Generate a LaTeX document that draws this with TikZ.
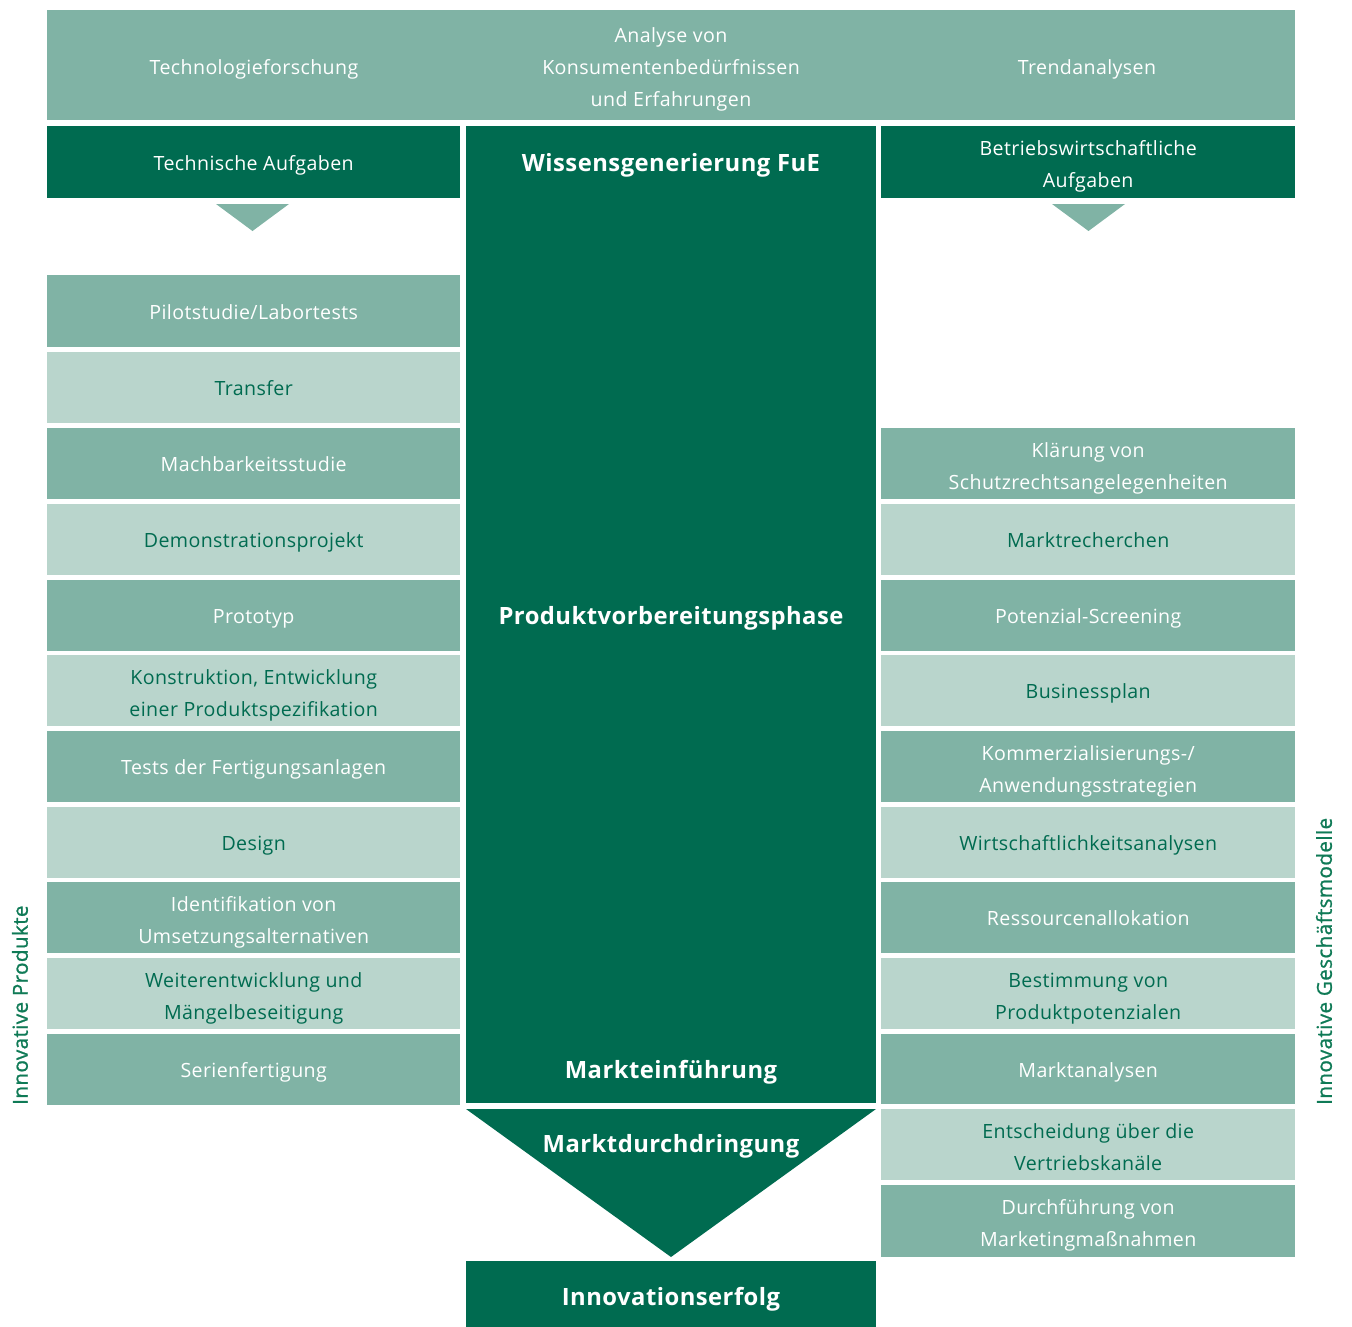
\documentclass[tikz,border=0pt]{standalone}
\usepackage{fontspec}
\setmainfont{Open Sans}[LetterSpace=2]
\newfontfamily\sidefont{Open Sans}[LetterSpace=2,FakeBold=1]
\newcommand\ztop{\rule{0pt}{25pt}}
\newcommand\zbot{\rule[-6pt]{0pt}{6pt}}
\definecolor{dkg}{HTML}{006B50}
\definecolor{mdg}{HTML}{80B3A5}
\definecolor{ltg}{HTML}{B9D5CC}
\definecolor{vtg}{HTML}{0F7A56}
\tikzset{
  plain/.style={rectangle, inner sep=0pt, anchor=north west},
  box/.style={plain, align=center,
    font=\fontsize{19.6}{32}\selectfont,
    execute at begin node={\rule{0pt}{22pt}},
    execute at end node={\rule[-6pt]{0pt}{6pt}}},
  lcol/.style={box, minimum width=413pt},
  rcol/.style={box, minimum width=414pt},
  mbox/.style={fill=mdg, text=white},
  lbox/.style={fill=ltg, text=dkg},
  dbox/.style={fill=dkg, text=white},
  ttl/.style={inner sep=0pt, text=white, text height=23pt, text depth=6pt,
    font=\fontsize{23.8}{30}\selectfont\bfseries},
  txt/.style={inner sep=0pt, align=center, text=white, font=\fontsize{19.6}{32}\selectfont,
    execute at begin node={\rule{0pt}{22pt}},
    execute at end node={\rule[-6pt]{0pt}{6pt}}},
  side/.style={inner sep=0pt, rotate=90, anchor=west, text=vtg,
    font=\fontsize{20.6}{24}\sidefont},
  arrowtri/.style={fill=mdg}
}
\begin{document}
\begin{tikzpicture}[x=1pt,y=-1pt]
\useasboundingbox (0,0) rectangle (1352,1326);
% top band
\node[plain, mbox, minimum width=1248pt, minimum height=110pt] (top) at (47,10) {};
\node[txt] (t1) at (254,66.5) {Technologieforschung};
\node[txt] (t2) at (671,65) {\ztop Analyse von\\Konsumentenbedürfnissen\\und Erfahrungen\zbot};
\node[txt] (t3) at (1087,66.5) {Trendanalysen};
% second row
\node[lcol, dbox, minimum height=72pt] (ta) at (47,126) {Technische Aufgaben};
\node[rcol, dbox, minimum height=72pt] (ba) at (881,126) {\ztop Betriebswirtschaftliche\\Aufgaben\zbot};
\fill[arrowtri] (216,204) -- (289,204) -- (252.5,231) -- cycle;
\fill[arrowtri] (1052,204) -- (1125,204) -- (1088.5,231) -- cycle;
% center column
\node[plain, dbox, minimum width=410pt, minimum height=977pt] (cc) at (466,126) {};
\node[ttl] (wg) at (671,163) {Wissensgenerierung FuE};
\node[ttl] (pv) at (671,616) {Produktvorbereitungsphase};
\node[ttl] (me) at (671,1070) {Markteinführung};
\fill[dkg] (466,1109) -- (876,1109) -- (671,1257) -- cycle;
\node[ttl] (md) at (671,1144) {Marktdurchdringung};
\node[plain, dbox, minimum width=410pt, minimum height=66pt] (ie) at (466,1261) {};
\node[ttl] (ieT) at (671,1297) {Innovationserfolg};
% left column
\node[lcol, mbox, minimum height=72pt] (l1) at (47,275) {Pilotstudie/Labortests};
\node[lcol, lbox, minimum height=71pt] (l2) at (47,352) {Transfer};
\node[lcol, mbox, minimum height=71pt] (l3) at (47,428) {Machbarkeitsstudie};
\node[lcol, lbox, minimum height=71pt] (l4) at (47,504) {Demonstrationsprojekt};
\node[lcol, mbox, minimum height=71pt] (l5) at (47,580) {Prototyp};
\node[lcol, lbox, minimum height=71pt] (l6) at (47,655) {\ztop Konstruktion, Entwicklung\\einer Produktspezifikation\zbot};
\node[lcol, mbox, minimum height=71pt] (l7) at (47,731) {Tests der Fertigungsanlagen};
\node[lcol, lbox, minimum height=71pt] (l8) at (47,807) {Design};
\node[lcol, mbox, minimum height=71pt] (l9) at (47,882) {\ztop Identifikation von\\Umsetzungsalternativen\zbot};
\node[lcol, lbox, minimum height=71pt] (l10) at (47,958) {\ztop Weiterentwicklung und\\Mängelbeseitigung\zbot};
\node[lcol, mbox, minimum height=71pt] (l11) at (47,1034) {Serienfertigung};
% right column
\node[rcol, mbox, minimum height=71pt] (r1) at (881,428) {\ztop Klärung von\\Schutzrechtsangelegenheiten\zbot};
\node[rcol, lbox, minimum height=71pt] (r2) at (881,504) {Marktrecherchen};
\node[rcol, mbox, minimum height=71pt] (r3) at (881,580) {Potenzial-Screening};
\node[rcol, lbox, minimum height=71pt] (r4) at (881,655) {Businessplan};
\node[rcol, mbox, minimum height=71pt] (r5) at (881,731) {\ztop Kommerzialisierungs-/\\Anwendungsstrategien\zbot};
\node[rcol, lbox, minimum height=71pt] (r6) at (881,807) {Wirtschaftlichkeitsanalysen};
\node[rcol, mbox, minimum height=71pt] (r7) at (881,882) {Ressourcenallokation};
\node[rcol, lbox, minimum height=71pt] (r8) at (881,958) {\ztop Bestimmung von\\Produktpotenzialen\zbot};
\node[rcol, mbox, minimum height=70pt] (r9) at (881,1034) {Marktanalysen};
\node[rcol, lbox, minimum height=71pt] (r10) at (881,1109) {\ztop Entscheidung über die\\Vertriebskanäle\zbot};
\node[rcol, mbox, minimum height=72pt] (r11) at (881,1185) {\ztop Durchführung von\\Marketingmaßnahmen\zbot};
% side labels
\node[side] (sl) at (20,1105) {Innovative Produkte};
\node[side] (sr) at (1324,1105) {Innovative Geschäftsmodelle};
\end{tikzpicture}
\end{document}
